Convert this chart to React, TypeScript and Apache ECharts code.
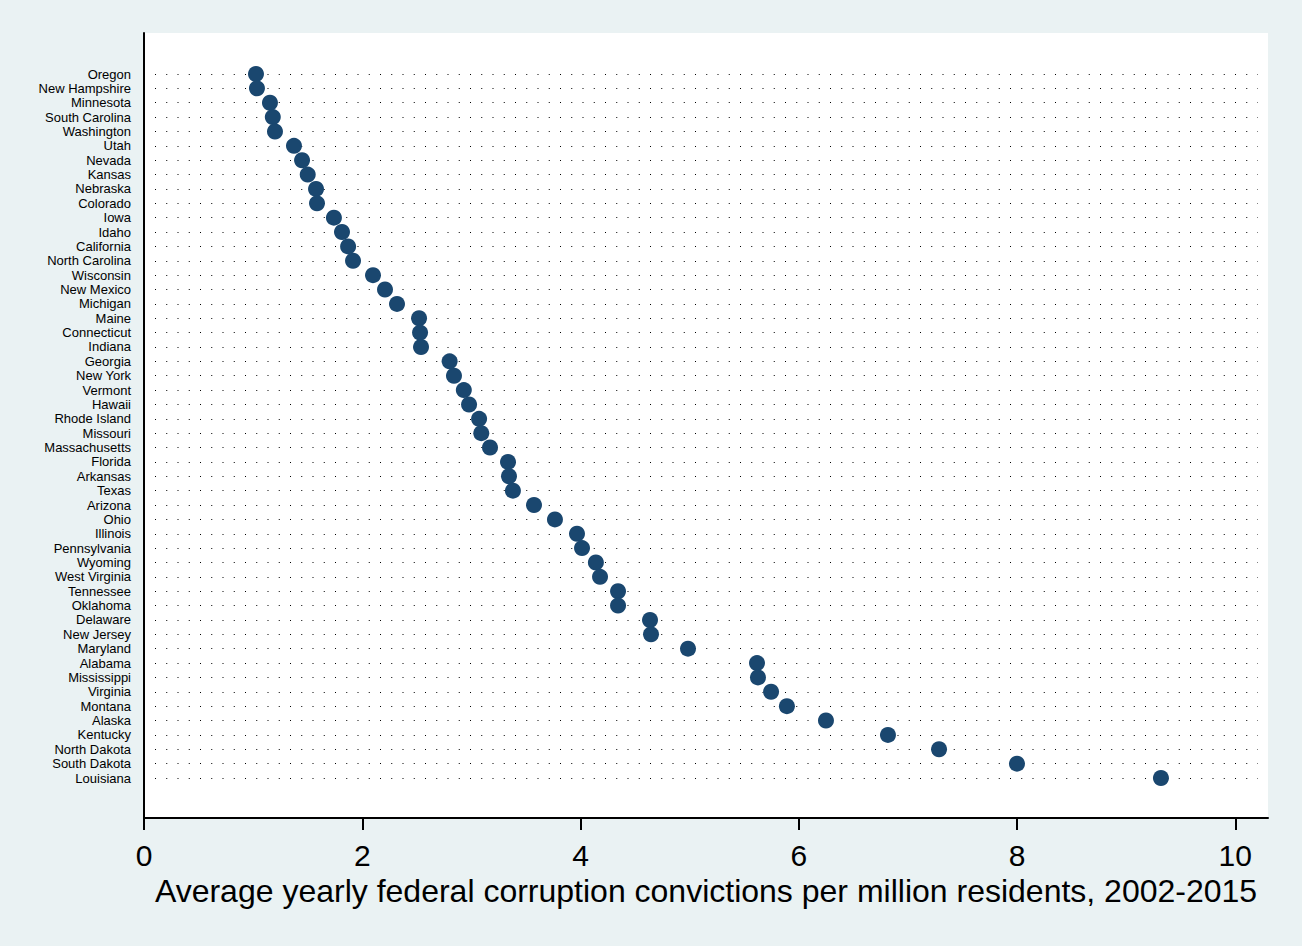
import React, { useEffect, useRef } from "react";
import * as echarts from "echarts";

const states: string[] = [
  "Oregon", "New Hampshire", "Minnesota", "South Carolina", "Washington", "Utah", "Nevada", "Kansas",
  "Nebraska", "Colorado", "Iowa", "Idaho", "California", "North Carolina", "Wisconsin", "New Mexico",
  "Michigan", "Maine", "Connecticut", "Indiana", "Georgia", "New York", "Vermont", "Hawaii",
  "Rhode Island", "Missouri", "Massachusetts", "Florida", "Arkansas", "Texas", "Arizona", "Ohio",
  "Illinois", "Pennsylvania", "Wyoming", "West Virginia", "Tennessee", "Oklahoma", "Delaware",
  "New Jersey", "Maryland", "Alabama", "Mississippi", "Virginia", "Montana", "Alaska", "Kentucky",
  "North Dakota", "South Dakota", "Louisiana",
];

const convictions: number[] = [
  1.026, 1.035, 1.154, 1.18, 1.2, 1.374, 1.448, 1.5,
  1.576, 1.585, 1.74, 1.814, 1.87, 1.915, 2.098, 2.208,
  2.318, 2.52, 2.529, 2.538, 2.8, 2.84, 2.93, 2.978,
  3.07, 3.09, 3.17, 3.335, 3.344, 3.38, 3.573, 3.765,
  3.967, 4.013, 4.14, 4.178, 4.343, 4.343, 4.636,
  4.645, 4.984, 5.616, 5.625, 5.745, 5.89, 6.248, 6.816,
  7.284, 7.998, 9.317,
];

const xTicks: number[] = [0, 2, 4, 6, 8, 10];
const xTitle = "Average yearly federal corruption convictions per million residents, 2002-2015";

const FONT = "'Liberation Sans', Arial, sans-serif";

export default function App() {
  const ref = useRef<HTMLDivElement>(null);
  useEffect(() => {
    document.body.style.margin = "0";
    const chart = echarts.init(ref.current!, null, { renderer: "svg" });
    const pxPerUnit = 109.15;
    const x0 = 144;
    const dotLeft = 155;
    const dotRight = 1258;
    chart.setOption({
      animation: false,
      backgroundColor: "#eaf2f3",
      textStyle: { fontFamily: FONT },
      grid: [
        {
          left: x0, top: 33, width: 1124, height: 785,
          show: true, backgroundColor: "#ffffff", borderWidth: 0,
        },
        {
          left: dotLeft, top: 74, width: dotRight - dotLeft, height: 704,
        },
      ],
      xAxis: [
        {
          gridIndex: 0, type: "value", min: 0, max: 10.3,
          axisLine: { show: true, onZero: false, lineStyle: { color: "#000", width: 2 } },
          axisTick: { show: true, customValues: xTicks, length: 12, lineStyle: { color: "#000", width: 2 } },
          axisLabel: { customValues: xTicks, fontSize: 30, color: "#000", margin: 22, fontFamily: FONT },
          splitLine: { show: false },
          name: xTitle, nameLocation: "middle", nameGap: 49,
          nameTextStyle: { fontSize: 32, color: "#000", fontFamily: FONT },
        },
        {
          gridIndex: 1, type: "value",
          min: (dotLeft - x0) / pxPerUnit, max: (dotRight - x0) / pxPerUnit,
          show: false,
        },
      ],
      yAxis: [
        {
          gridIndex: 0, type: "value", min: 0, max: 1,
          axisLine: { show: true, onZero: false, lineStyle: { color: "#000", width: 2 } },
          axisTick: { show: false }, axisLabel: { show: false }, splitLine: { show: false },
        },
        {
          gridIndex: 1, type: "category", data: states, inverse: true, boundaryGap: false,
          axisLine: { show: false }, axisTick: { show: false },
          axisLabel: { fontSize: 13, color: "#000", margin: 24, interval: 0, fontFamily: FONT },
          splitLine: { show: true, lineStyle: { color: "#000", width: 1, type: [1, 10.25] } },
        },
      ],
      series: [
        {
          type: "scatter", xAxisIndex: 1, yAxisIndex: 1,
          data: convictions.map((v, i) => [v, states[i]]),
          symbol: "circle", symbolSize: 16,
          itemStyle: { color: "#1a476f", opacity: 1 },
        },
      ],
    });
    return () => chart.dispose();
  }, []);
  return <div ref={ref} style={{ width: 1302, height: 946 }} />;
}
